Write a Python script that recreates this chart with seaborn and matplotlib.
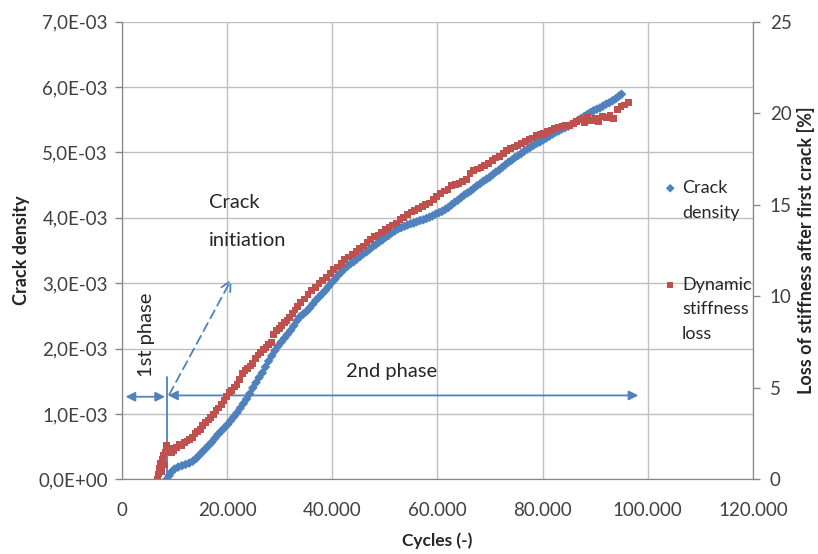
import numpy as np
import pandas as pd
import seaborn as sns
import matplotlib.pyplot as plt
from matplotlib.ticker import FuncFormatter, MultipleLocator

# crack density (left axis), in 1e-3
crack_cycles = [8500, 9000, 9500, 10000, 10700, 11400, 12100, 12800, 13500, 14100,
                14700, 15300, 15900, 16500, 17100, 17700, 18300, 18900, 19500, 20100,
                20700, 21300, 21900, 22500, 23100, 23700, 24300, 24900, 25500, 26100,
                26700, 27300, 27900, 28500, 29100, 29700, 30300, 30900, 31500, 32100,
                32700, 33300, 33900, 34500, 35100, 35700, 36300, 36900, 37500, 38100,
                38700, 39300, 39900, 40500, 41100, 41700, 42300, 42900, 43500, 44100,
                44700, 45300, 45900, 46500, 47100, 47700, 48300, 48900, 49500, 50100,
                50700, 51300, 51900, 52500, 53100, 53700, 54300, 54900, 55500, 56100,
                56700, 57300, 57900, 58500, 59100, 59700, 60300, 60900, 61500, 62100,
                62700, 63300, 63900, 64500, 65100, 65700, 66300, 66900, 67500, 68100,
                68700, 69300, 69900, 70500, 71100, 71700, 72300, 72900, 73500, 74100,
                74700, 75300, 75900, 76500, 77100, 77700, 78300, 78900, 79500, 80100,
                80700, 81300, 81900, 82500, 83100, 83700, 84300, 84900, 85500, 86100,
                86700, 87300, 87900, 88500, 89100, 89700, 90300, 90900, 91500, 92100,
                92700, 93300, 93900, 94500, 95000]
crack_density = [0.00, 0.06, 0.12, 0.16, 0.19, 0.21, 0.23, 0.25, 0.28, 0.32,
                 0.37, 0.42, 0.47, 0.52, 0.57, 0.63, 0.69, 0.74, 0.79, 0.84,
                 0.90, 0.96, 1.02, 1.09, 1.16, 1.23, 1.31, 1.40, 1.48, 1.56,
                 1.63, 1.72, 1.81, 1.89, 1.97, 2.04, 2.10, 2.16, 2.22, 2.28,
                 2.35, 2.43, 2.49, 2.53, 2.57, 2.62, 2.68, 2.74, 2.79, 2.84,
                 2.89, 2.95, 3.01, 3.06, 3.12, 3.17, 3.22, 3.26, 3.30, 3.33,
                 3.37, 3.41, 3.45, 3.48, 3.52, 3.56, 3.59, 3.63, 3.66, 3.70,
                 3.73, 3.77, 3.80, 3.83, 3.85, 3.87, 3.89, 3.91, 3.92, 3.94,
                 3.96, 3.97, 3.99, 4.01, 4.03, 4.06, 4.08, 4.10, 4.13, 4.16,
                 4.20, 4.24, 4.27, 4.31, 4.35, 4.38, 4.41, 4.45, 4.49, 4.52,
                 4.56, 4.59, 4.62, 4.66, 4.70, 4.73, 4.77, 4.81, 4.85, 4.88,
                 4.92, 4.95, 4.98, 5.02, 5.05, 5.08, 5.11, 5.14, 5.16, 5.19,
                 5.22, 5.25, 5.28, 5.31, 5.33, 5.36, 5.38, 5.40, 5.43, 5.46,
                 5.49, 5.52, 5.55, 5.58, 5.61, 5.64, 5.66, 5.68, 5.71, 5.74,
                 5.76, 5.79, 5.82, 5.86, 5.89]

# dynamic stiffness loss (right axis, %)
stiff_cycles = [6800, 6900, 7100, 7300, 7500, 7700, 7900, 8100, 8300, 8500,
                8800, 9100, 9500, 9900, 10400, 10900, 11400, 11900, 12400, 12900,
                13400, 13900, 14400, 14900, 15400, 15900, 16400, 16900, 17400, 17900,
                18400, 18900, 19400, 19900, 20400, 20900, 21400, 21900, 22400, 22900,
                23400, 23900, 24400, 24900, 25400, 25900, 26400, 26900, 27400, 27900,
                28400, 28900, 29400, 29900, 30400, 30900, 31400, 31900, 32400, 32900,
                33400, 34000, 34700, 35400, 36100, 36800, 37500, 38200, 38900, 39600,
                40300, 41000, 41700, 42400, 43100, 43800, 44500, 45200, 45900, 46600,
                47300, 48000, 48700, 49400, 50100, 50800, 51500, 52200, 52900, 53600,
                54300, 55000, 55700, 56400, 57100, 57800, 58500, 59200, 59900, 60600,
                61300, 62000, 62700, 63400, 64100, 64800, 65500, 66200, 66900, 67600,
                68300, 69000, 69700, 70400, 71100, 71800, 72500, 73200, 73900, 74600,
                75300, 76000, 76700, 77400, 78100, 78800, 79500, 80200, 80900, 81600,
                82300, 83000, 83700, 84400, 85100, 85800, 86500, 87200, 87900, 88600,
                89300, 90000, 90700, 91400, 92100, 92800, 93500, 94200, 94900, 95600,
                96300]
stiff_loss = [0.00, 0.30, 0.60, 0.90, 0.45, 1.10, 1.30, 0.80, 1.50, 1.85,
              1.55, 1.70, 1.45, 1.60, 1.75, 1.90, 1.85, 2.00, 2.10, 2.20,
              2.30, 2.50, 2.60, 2.75, 2.95, 3.10, 3.25, 3.40, 3.55, 3.75,
              3.90, 4.10, 4.30, 4.55, 4.75, 4.85, 5.05, 5.20, 5.45, 5.80,
              5.95, 6.05, 6.20, 6.35, 6.60, 6.80, 6.95, 7.10, 7.20, 7.35,
              7.50, 7.90, 8.15, 8.25, 8.40, 8.55, 8.70, 8.85, 9.05, 9.25,
              9.45, 9.65, 9.85, 10.10, 10.30, 10.50, 10.70, 10.85, 11.05, 11.25,
              11.45, 11.60, 11.80, 12.00, 12.15, 12.30, 12.45, 12.60, 12.75, 12.95,
              13.10, 13.25, 13.35, 13.50, 13.65, 13.75, 13.90, 14.00, 14.20, 14.30,
              14.45, 14.60, 14.70, 14.80, 14.90, 15.00, 15.10, 15.30, 15.45, 15.60,
              15.75, 15.85, 16.05, 16.10, 16.15, 16.25, 16.40, 16.70, 16.85, 16.95,
              17.05, 17.15, 17.25, 17.40, 17.55, 17.65, 17.80, 17.95, 18.05, 18.15,
              18.25, 18.35, 18.45, 18.55, 18.65, 18.80, 18.85, 18.90, 19.00, 19.05,
              19.15, 19.20, 19.30, 19.35, 19.30, 19.45, 19.55, 19.65, 19.50, 19.75,
              19.60, 19.70, 19.55, 19.80, 19.75, 19.90, 19.70, 20.20, 20.35, 20.45,
              20.60]

blue = '#4F81BD'
red = '#C0504D'
grid_c = '#BFBFBF'
axis_c = '#868686'

sns.set_style('white')
plt.rcParams['font.family'] = ['Lato', 'DejaVu Sans']

crack_df = pd.DataFrame({'cycles': crack_cycles,
                         'density': np.array(crack_density) * 1e-3})
stiff_df = pd.DataFrame({'cycles': stiff_cycles, 'loss': stiff_loss})

fig = plt.figure(figsize=(8.18, 5.54), dpi=100)
ax = fig.add_axes([0.149, 0.1345, 0.7715, 0.8265])
ax2 = ax.twinx()

sns.scatterplot(data=crack_df, x='cycles', y='density', ax=ax, marker='D', s=24,
                color=blue, edgecolor='none', label='Crack\ndensity', zorder=3)
sns.scatterplot(data=stiff_df, x='cycles', y='loss', ax=ax2, marker='s', s=24,
                color=red, edgecolor='none', label='Dynamic\nstiffness\nloss', zorder=3)

ax.set_xlim(0, 120000)
ax.set_ylim(0, 7e-3)
ax2.set_ylim(0, 25)
ax.xaxis.set_major_locator(MultipleLocator(20000))
ax.yaxis.set_major_locator(MultipleLocator(1e-3))
ax2.yaxis.set_major_locator(MultipleLocator(5))

ax.xaxis.set_major_formatter(FuncFormatter(lambda v, p: f"{int(round(v)):,}".replace(',', '.')))
ax.yaxis.set_major_formatter(FuncFormatter(lambda v, p: f"{v:.1E}".replace('.', ',')))

ax.grid(True, color=grid_c, linewidth=1)
ax.set_axisbelow(True)

for a in (ax, ax2):
    a.spines['top'].set_visible(False)
    for s in ('left', 'right', 'bottom'):
        a.spines[s].set_color(axis_c)
    a.tick_params(colors=axis_c, labelcolor='#404040', labelsize=13.5, length=5,
                  direction='out', width=1)
ax.tick_params(axis='x', pad=11)
ax.tick_params(axis='y', pad=5)
ax2.tick_params(axis='y', pad=7)

ax.set_xlabel('Cycles (-)', fontsize=12.5, fontweight='bold', labelpad=10)
ax.set_ylabel('Crack density', fontsize=13, fontweight='bold', labelpad=6)
ax2.set_ylabel('Loss of stiffness after first crack [%]', fontsize=13,
               fontweight='bold', labelpad=4)

# annotations
ax.plot([8500, 8500], [0, 1.57e-3], color=blue, lw=1.3, zorder=4)
ax.annotate('', xy=(21100, 3.10e-3), xytext=(8750, 1.26e-3),
            arrowprops=dict(arrowstyle='->', color=blue, lw=1.3, ls=(0, (5, 3)),
                            mutation_scale=18))
ax.annotate('', xy=(700, 1.265e-3), xytext=(8200, 1.265e-3),
            arrowprops=dict(arrowstyle='<|-|>', color=blue, lw=1.3, mutation_scale=14,
                            shrinkA=0, shrinkB=0))
ax.annotate('', xy=(8800, 1.285e-3), xytext=(98200, 1.285e-3),
            arrowprops=dict(arrowstyle='<|-|>', color=blue, lw=1.3, mutation_scale=14,
                            shrinkA=0, shrinkB=0))
ax.text(16500, 4.23e-3, 'Crack', fontsize=14.5, va='center', ha='left')
ax.text(16500, 3.65e-3, 'initiation', fontsize=14.5, va='center', ha='left')
ax.text(4600, 2.21e-3, '1st phase', fontsize=14.5, rotation=90, va='center', ha='center')
ax.text(51300, 1.65e-3, '2nd phase', fontsize=14.5, va='center', ha='center')

h1, l1 = ax.get_legend_handles_labels()
h2, l2 = ax2.get_legend_handles_labels()
ax2.get_legend().remove()
leg = ax.legend(h1 + h2, l1 + l2, loc='upper left', bbox_to_anchor=(0.846, 0.673),
                frameon=False, fontsize=13, handlelength=0.6, handletextpad=0.35,
                borderpad=0, labelspacing=3.1, markerscale=0.9)
for t in leg.get_texts():
    t.set_linespacing(1.65)
# put the marker level with the first line of each label
for row in leg._legend_handle_box.get_children():
    for item in row.get_children():
        item.align = 'top'

fig.savefig('out.png', dpi=100)
